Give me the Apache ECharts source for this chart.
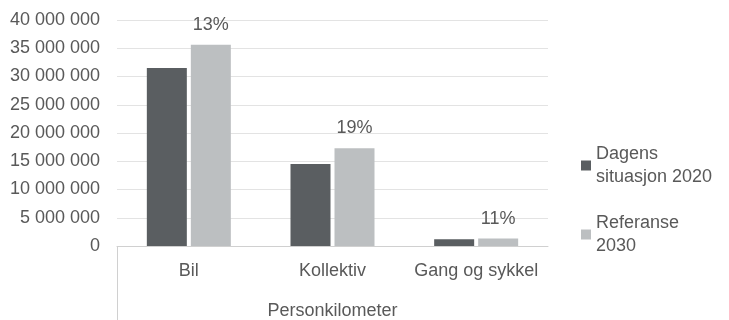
<!DOCTYPE html>
<html><head><meta charset="utf-8">
<script src="https://cdn.jsdelivr.net/npm/echarts@6/dist/echarts.min.js"></script>
<style>html,body{margin:0;padding:0;background:#fff}#c{width:729px;height:320px}</style>
</head><body><div id="c"></div>
<script>
const categories = ['Bil', 'Kollektiv', 'Gang og sykkel'];
const dagens2020 = [31500000, 14500000, 1180000];
const referanse2030 = [35600000, 17300000, 1310000];
const increaseLabels = ['13%', '19%', '11%'];
const seriesNames = ['Dagens situasjon 2020', 'Referanse 2030'];
const legendLines = {'Dagens situasjon 2020': 'Dagens\nsituasjon 2020', 'Referanse 2030': 'Referanse\n2030'};
const axisName = 'Personkilometer';

const FONT = '"Liberation Sans", Arial, sans-serif';
const TXT = '#595959';
const FS = 18;
const chart = echarts.init(document.getElementById('c'), null, {renderer: 'canvas'});
const gridL = 117, gridR = 181, gridT = 20, gridB = 74;
chart.setOption({
  animation: false,
  textStyle: {fontFamily: FONT},
  grid: {left: gridL, right: gridR, top: gridT, bottom: gridB, containLabel: false, outerBoundsMode: 'none'},
  legend: {
    orient: 'vertical', left: 576, top: 126, itemWidth: 10, itemHeight: 10, itemGap: 0,
    icon: 'rect',
    formatter: n => legendLines[n],
    textStyle: {fontFamily: FONT, fontSize: FS, color: TXT, lineHeight: 23, padding: [23, 0, 0, 0]},
    data: seriesNames
  },
  xAxis: {
    type: 'category', data: categories,
    axisLine: {lineStyle: {color: '#d0d0d0'}},
    axisTick: {show: false},
    axisLabel: {color: TXT, fontSize: FS, fontFamily: FONT, margin: 16, interval: 0},
    name: axisName, nameLocation: 'middle', nameGap: 56,
    nameTextStyle: {color: TXT, fontSize: FS, fontFamily: FONT}
  },
  yAxis: {
    type: 'value', min: 0, max: 40000000, interval: 5000000,
    axisLine: {show: false}, axisTick: {show: false},
    splitLine: {lineStyle: {color: '#e3e3e3'}},
    axisLabel: {color: TXT, fontSize: FS, fontFamily: FONT, margin: 17,
      formatter: v => String(v).replace(/\B(?=(\d{3})+(?!\d))/g, ' ')}
  },
  series: [
    {name: seriesNames[0], type: 'bar', data: dagens2020, barWidth: 40, barGap: '10%',
     itemStyle: {color: '#5a5e61'}},
    {name: seriesNames[1], type: 'bar', data: referanse2030, barWidth: 40, barGap: '10%',
     itemStyle: {color: '#bcbfc1'},
     label: {show: true, position: 'top', distance: 11, color: TXT, fontSize: FS, fontFamily: FONT,
       formatter: p => increaseLabels[p.dataIndex]}}
  ],
  graphic: [{type: 'line', shape: {x1: gridL + 0.5, y1: 320 - gridB, x2: gridL + 0.5, y2: 320},
    style: {stroke: '#d0d0d0', lineWidth: 1}}]
});
</script></body></html>
